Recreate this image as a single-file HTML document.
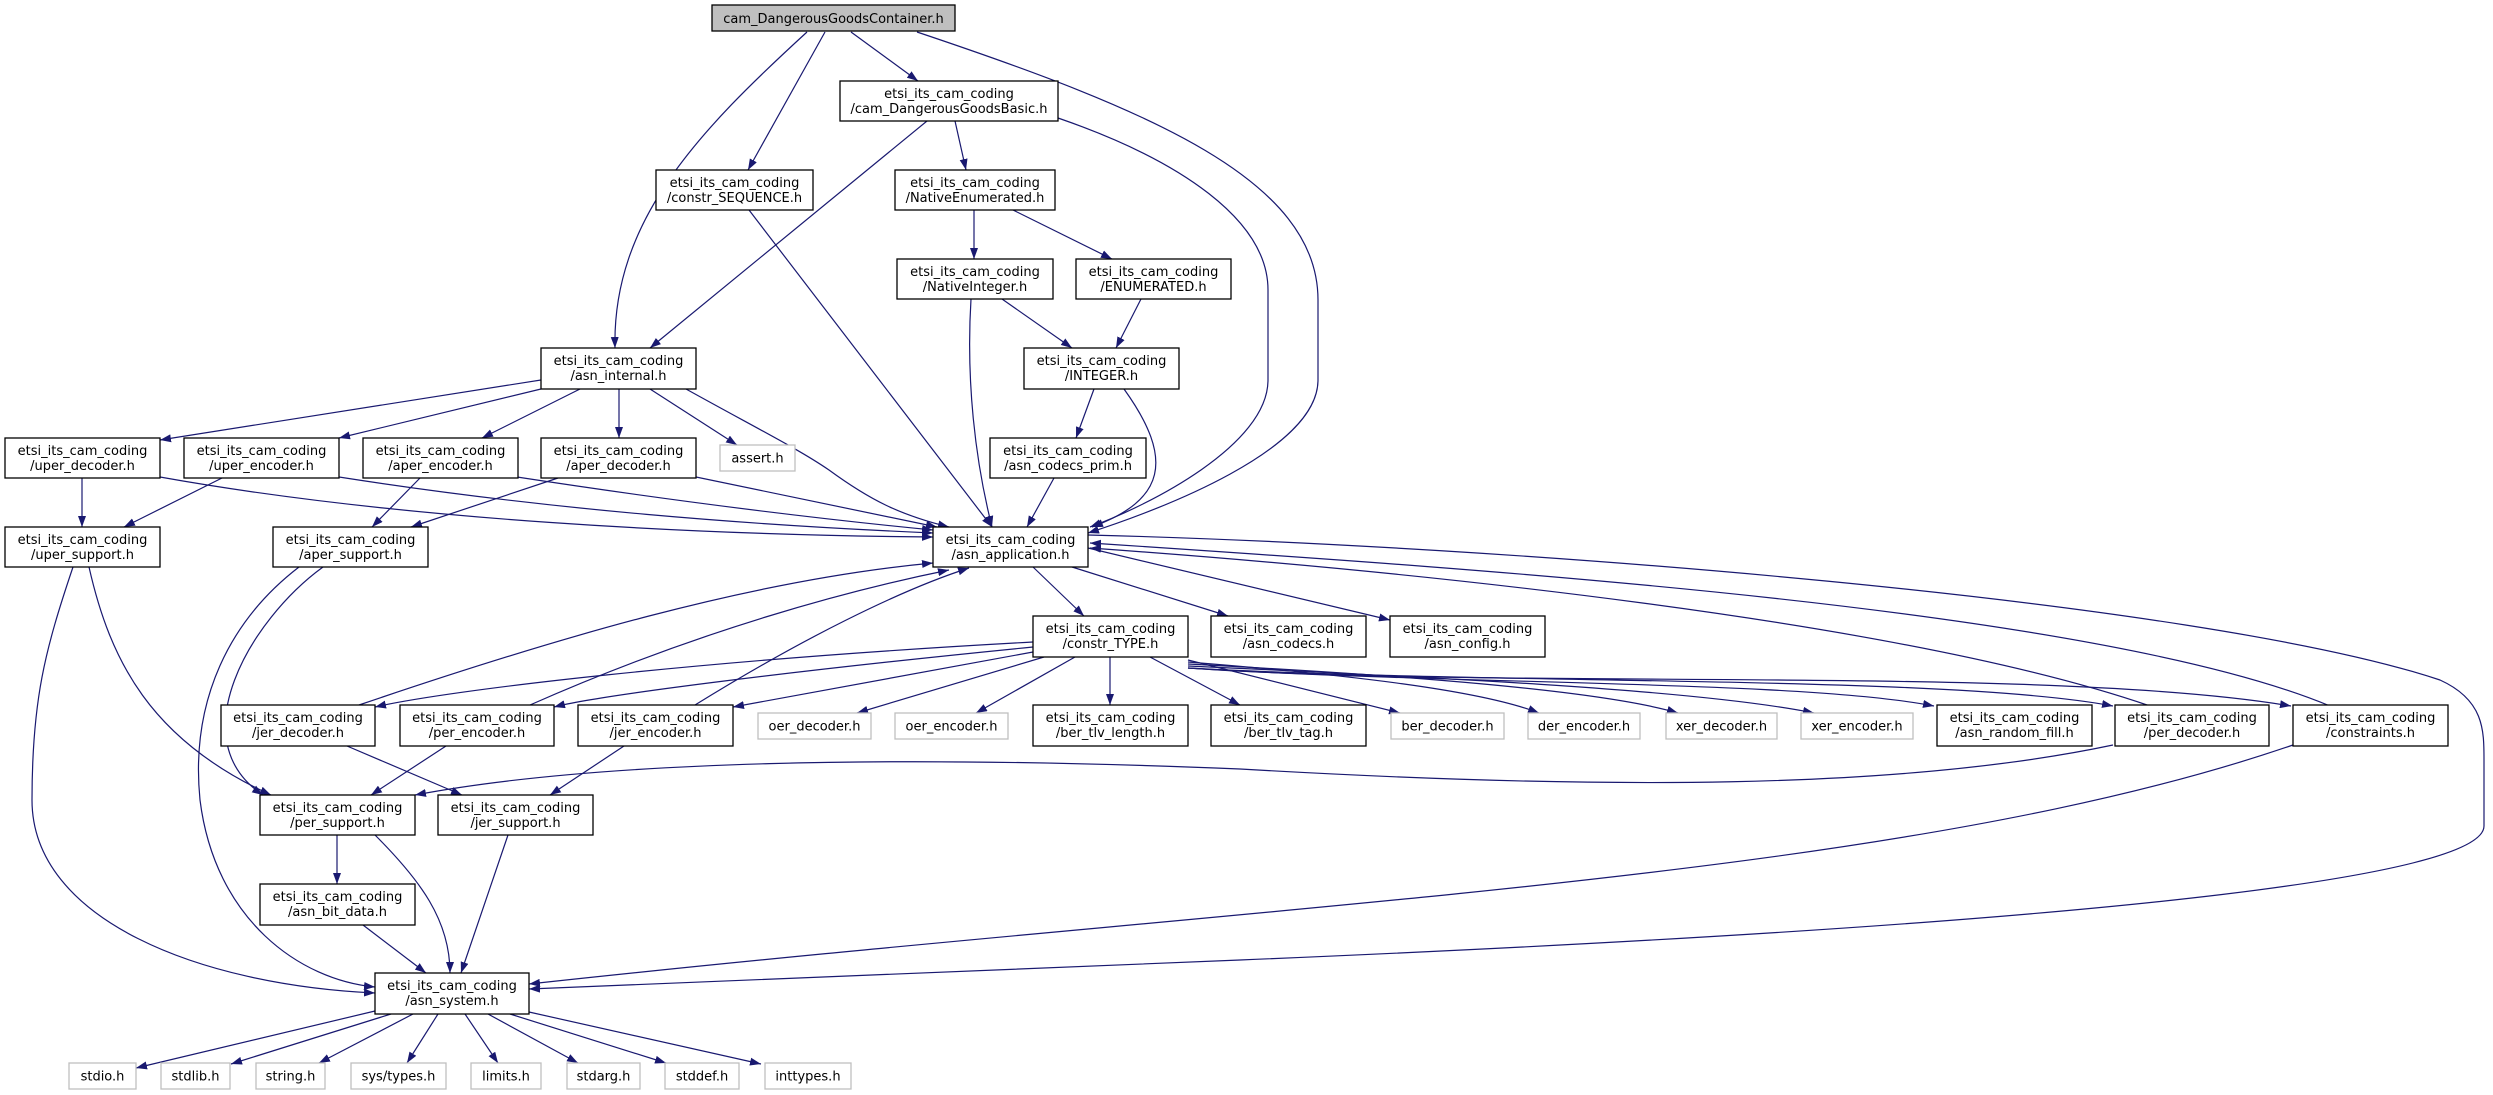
<!DOCTYPE html>
<html><head><meta charset="utf-8"><style>
html,body{margin:0;padding:0;background:#fff;}
svg{display:block}
text{font-family:"DejaVu Sans","Liberation Sans",sans-serif;font-size:13px;fill:#000;text-anchor:middle}
.n{fill:#fff;stroke:#000;stroke-width:1.3}
.g{fill:#fff;stroke:#bfbfbf;stroke-width:1.3}
.e{fill:none;stroke:#191970;stroke-width:1.2;marker-end:url(#a)}
</style></head><body>
<svg width="2493" height="1095" viewBox="0 0 2493 1095" xmlns="http://www.w3.org/2000/svg">
<defs><marker id="a" markerUnits="userSpaceOnUse" markerWidth="11" markerHeight="8" refX="11" refY="4" orient="auto"><path d="M0,0 L11,4 L0,8 z" fill="#191970"/></marker></defs>

<!-- edges -->
<path class="e" d="M807,32 C700,130 612,220 615,348"/>
<path class="e" d="M825,32 L748,170"/>
<path class="e" d="M851,32 L918,81"/>
<path class="e" d="M917,32 C1150,110 1318,180 1318,300 L1318,380 C1318,450 1160,510 1088,533"/>
<path class="e" d="M927,121 L650,348"/>
<path class="e" d="M955,121 L966,170"/>
<path class="e" d="M1058,118 C1180,160 1268,220 1268,290 L1268,380 C1268,445 1150,505 1090,527"/>
<path class="e" d="M974,210 L974,259"/>
<path class="e" d="M1013,210 L1112,259"/>
<path class="e" d="M971,299 C966,380 975,460 992,527"/>
<path class="e" d="M1002,299 L1072,348"/>
<path class="e" d="M1141,299 L1116,348"/>
<path class="e" d="M1094,389 L1076,438"/>
<path class="e" d="M1124,389 C1175,460 1165,500 1092,527"/>
<path class="e" d="M1054,478 L1027,527"/>
<path class="e" d="M749,210 L992,527"/>
<path class="e" d="M541,380 L160,440"/>
<path class="e" d="M541,389 L339,438"/>
<path class="e" d="M580,389 L482,438"/>
<path class="e" d="M619,389 L619,438"/>
<path class="e" d="M650,389 L737,445"/>
<path class="e" d="M686,389 C760,430 800,450 829,470 C870,500 900,515 949,527"/>
<path class="e" d="M82,478 L82,527"/>
<path class="e" d="M160,477 C400,520 700,535 933,537"/>
<path class="e" d="M222,478 L124,527"/>
<path class="e" d="M339,477 C550,510 750,525 933,533"/>
<path class="e" d="M420,478 L372,527"/>
<path class="e" d="M517,477 C700,505 830,520 933,530"/>
<path class="e" d="M558,478 L411,527"/>
<path class="e" d="M696,477 L937,527"/>
<path class="e" d="M89,567 C110,660 150,740 271,795"/>
<path class="e" d="M73,567 C45,650 32,700 32,800 C32,920 200,985 375,993"/>
<path class="e" d="M323,567 C250,620 180,740 263,795"/>
<path class="e" d="M299,567 C230,620 190,700 200,800 C215,920 300,980 375,987"/>
<path class="e" d="M1033,567 L1084,616"/>
<path class="e" d="M1072,567 L1228,616"/>
<path class="e" d="M1088,548 L1390,620"/>
<path class="e" d="M1088,535 C1500,545 2200,600 2440,680 C2484,700 2484,730 2484,760 L2484,826 C2484,870 2200,920 1240,960 C900,975 700,983 529,989"/>
<path class="e" d="M2150,706 C1900,620 1400,570 1090,548"/>
<path class="e" d="M2330,706 C2100,610 1500,570 1090,543"/>
<path class="e" d="M1033,642 C700,660 450,690 375,707"/>
<path class="e" d="M1033,647 C800,670 600,695 554,707"/>
<path class="e" d="M1033,652 L733,707"/>
<path class="e" d="M1044,657 L857,713"/>
<path class="e" d="M1075,657 L976,713"/>
<path class="e" d="M1110,657 L1110,705"/>
<path class="e" d="M1150,657 L1240,705"/>
<path class="e" d="M1188,660 L1400,713"/>
<path class="e" d="M1188,662 C1350,675 1480,690 1539,713"/>
<path class="e" d="M1188,664 C1400,675 1600,690 1678,713"/>
<path class="e" d="M1188,666 C1450,678 1700,690 1814,713"/>
<path class="e" d="M1188,668 C1450,685 1800,680 1934,706"/>
<path class="e" d="M1188,668 C1500,685 1950,675 2113,706"/>
<path class="e" d="M1188,668 C1500,690 2050,665 2291,706"/>
<path class="e" d="M2113,745 C1900,790 1600,790 1240,769 C900,755 600,760 415,795"/>
<path class="e" d="M2293,745 C1900,880 1300,900 529,984"/>
<path class="e" d="M359,705 C550,640 750,580 933,563"/>
<path class="e" d="M347,746 L462,795"/>
<path class="e" d="M530,705 C700,630 850,590 949,570"/>
<path class="e" d="M446,746 L371,795"/>
<path class="e" d="M695,705 C800,640 900,590 969,568"/>
<path class="e" d="M624,746 L550,795"/>
<path class="e" d="M337,835 L337,884"/>
<path class="e" d="M375,835 C420,880 450,920 450,973"/>
<path class="e" d="M508,835 L461,973"/>
<path class="e" d="M363,925 L426,973"/>
<path class="e" d="M375,1011 L136,1068"/>
<path class="e" d="M391,1014 L231,1064"/>
<path class="e" d="M413,1014 L319,1063"/>
<path class="e" d="M438,1014 L407,1063"/>
<path class="e" d="M465,1014 L498,1063"/>
<path class="e" d="M488,1014 L578,1063"/>
<path class="e" d="M510,1014 L666,1063"/>
<path class="e" d="M529,1012 L761,1064"/>

<!-- nodes -->
<rect x="712" y="5" width="243" height="26" fill="#bfbfbf" stroke="#000" stroke-width="1.3"/>
<text x="833.5" y="23">cam_DangerousGoodsContainer.h</text>

<rect class="n" x="840" y="81" width="218" height="40"/><text x="949" y="98">etsi_its_cam_coding</text><text x="949" y="113">/cam_DangerousGoodsBasic.h</text>
<rect class="n" x="656" y="170" width="157" height="40"/><text x="734.5" y="187">etsi_its_cam_coding</text><text x="734.5" y="202">/constr_SEQUENCE.h</text>
<rect class="n" x="895" y="170" width="160" height="40"/><text x="975" y="187">etsi_its_cam_coding</text><text x="975" y="202">/NativeEnumerated.h</text>
<rect class="n" x="897" y="259" width="156" height="40"/><text x="975" y="276">etsi_its_cam_coding</text><text x="975" y="291">/NativeInteger.h</text>
<rect class="n" x="1076" y="259" width="155" height="40"/><text x="1153.5" y="276">etsi_its_cam_coding</text><text x="1153.5" y="291">/ENUMERATED.h</text>
<rect class="n" x="541" y="348" width="155" height="41"/><text x="618.5" y="365">etsi_its_cam_coding</text><text x="618.5" y="380">/asn_internal.h</text>
<rect class="n" x="1024" y="348" width="155" height="41"/><text x="1101.5" y="365">etsi_its_cam_coding</text><text x="1101.5" y="380">/INTEGER.h</text>

<rect class="n" x="5" y="438" width="155" height="40"/><text x="82.5" y="455">etsi_its_cam_coding</text><text x="82.5" y="470">/uper_decoder.h</text>
<rect class="n" x="184" y="438" width="155" height="40"/><text x="261.5" y="455">etsi_its_cam_coding</text><text x="261.5" y="470">/uper_encoder.h</text>
<rect class="n" x="363" y="438" width="155" height="40"/><text x="440.5" y="455">etsi_its_cam_coding</text><text x="440.5" y="470">/aper_encoder.h</text>
<rect class="n" x="541" y="438" width="155" height="40"/><text x="618.5" y="455">etsi_its_cam_coding</text><text x="618.5" y="470">/aper_decoder.h</text>
<rect class="g" x="720" y="445" width="75" height="26"/><text x="757.5" y="462.5">assert.h</text>
<rect class="n" x="990" y="438" width="156" height="40"/><text x="1068" y="455">etsi_its_cam_coding</text><text x="1068" y="470">/asn_codecs_prim.h</text>

<rect class="n" x="5" y="527" width="155" height="40"/><text x="82.5" y="544">etsi_its_cam_coding</text><text x="82.5" y="559">/uper_support.h</text>
<rect class="n" x="273" y="527" width="155" height="40"/><text x="350.5" y="544">etsi_its_cam_coding</text><text x="350.5" y="559">/aper_support.h</text>
<rect class="n" x="933" y="527" width="155" height="40"/><text x="1010.5" y="544">etsi_its_cam_coding</text><text x="1010.5" y="559">/asn_application.h</text>

<rect class="n" x="1033" y="616" width="155" height="41"/><text x="1110.5" y="633">etsi_its_cam_coding</text><text x="1110.5" y="648">/constr_TYPE.h</text>
<rect class="n" x="1211" y="616" width="155" height="41"/><text x="1288.5" y="633">etsi_its_cam_coding</text><text x="1288.5" y="648">/asn_codecs.h</text>
<rect class="n" x="1390" y="616" width="155" height="41"/><text x="1467.5" y="633">etsi_its_cam_coding</text><text x="1467.5" y="648">/asn_config.h</text>

<rect class="n" x="221" y="705" width="154" height="41"/><text x="298" y="722">etsi_its_cam_coding</text><text x="298" y="737">/jer_decoder.h</text>
<rect class="n" x="400" y="705" width="154" height="41"/><text x="477" y="722">etsi_its_cam_coding</text><text x="477" y="737">/per_encoder.h</text>
<rect class="n" x="578" y="705" width="155" height="41"/><text x="655.5" y="722">etsi_its_cam_coding</text><text x="655.5" y="737">/jer_encoder.h</text>
<rect class="g" x="758" y="713" width="113" height="26"/><text x="814.5" y="730.5">oer_decoder.h</text>
<rect class="g" x="895" y="713" width="113" height="26"/><text x="951.5" y="730.5">oer_encoder.h</text>
<rect class="n" x="1033" y="705" width="155" height="41"/><text x="1110.5" y="722">etsi_its_cam_coding</text><text x="1110.5" y="737">/ber_tlv_length.h</text>
<rect class="n" x="1211" y="705" width="155" height="41"/><text x="1288.5" y="722">etsi_its_cam_coding</text><text x="1288.5" y="737">/ber_tlv_tag.h</text>
<rect class="g" x="1391" y="713" width="113" height="26"/><text x="1447.5" y="730.5">ber_decoder.h</text>
<rect class="g" x="1528" y="713" width="112" height="26"/><text x="1584" y="730.5">der_encoder.h</text>
<rect class="g" x="1666" y="713" width="111" height="26"/><text x="1721.5" y="730.5">xer_decoder.h</text>
<rect class="g" x="1801" y="713" width="112" height="26"/><text x="1857" y="730.5">xer_encoder.h</text>
<rect class="n" x="1937" y="705" width="155" height="41"/><text x="2014.5" y="722">etsi_its_cam_coding</text><text x="2014.5" y="737">/asn_random_fill.h</text>
<rect class="n" x="2115" y="705" width="154" height="41"/><text x="2192" y="722">etsi_its_cam_coding</text><text x="2192" y="737">/per_decoder.h</text>
<rect class="n" x="2293" y="705" width="155" height="41"/><text x="2370.5" y="722">etsi_its_cam_coding</text><text x="2370.5" y="737">/constraints.h</text>

<rect class="n" x="260" y="795" width="155" height="40"/><text x="337.5" y="812">etsi_its_cam_coding</text><text x="337.5" y="827">/per_support.h</text>
<rect class="n" x="438" y="795" width="155" height="40"/><text x="515.5" y="812">etsi_its_cam_coding</text><text x="515.5" y="827">/jer_support.h</text>
<rect class="n" x="260" y="884" width="155" height="41"/><text x="337.5" y="901">etsi_its_cam_coding</text><text x="337.5" y="916">/asn_bit_data.h</text>
<rect class="n" x="375" y="973" width="154" height="41"/><text x="452" y="990">etsi_its_cam_coding</text><text x="452" y="1005">/asn_system.h</text>

<rect class="g" x="69" y="1063" width="67" height="26"/><text x="102.5" y="1080.5">stdio.h</text>
<rect class="g" x="161" y="1063" width="69" height="26"/><text x="195.5" y="1080.5">stdlib.h</text>
<rect class="g" x="256" y="1063" width="69" height="26"/><text x="290.5" y="1080.5">string.h</text>
<rect class="g" x="351" y="1063" width="95" height="26"/><text x="398.5" y="1080.5">sys/types.h</text>
<rect class="g" x="471" y="1063" width="70" height="26"/><text x="506" y="1080.5">limits.h</text>
<rect class="g" x="567" y="1063" width="73" height="26"/><text x="603.5" y="1080.5">stdarg.h</text>
<rect class="g" x="665" y="1063" width="74" height="26"/><text x="702" y="1080.5">stddef.h</text>
<rect class="g" x="765" y="1063" width="86" height="26"/><text x="808" y="1080.5">inttypes.h</text>
</svg>
</body></html>
